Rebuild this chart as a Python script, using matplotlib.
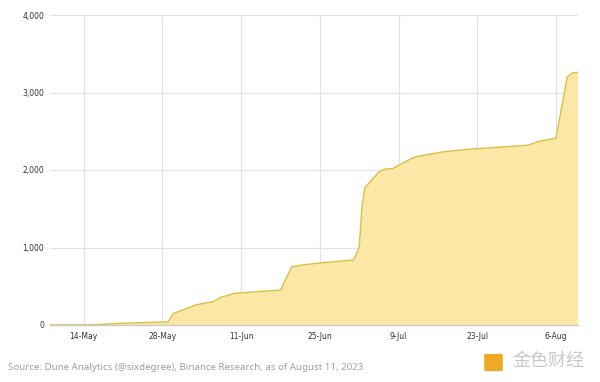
import pandas as pd
import matplotlib.pyplot as plt
import matplotlib.dates as mdates
from matplotlib.ticker import FuncFormatter
from matplotlib.patches import FancyBboxPatch

# cumulative count
dates = [
    "2023-05-08", "2023-05-16", "2023-05-17", "2023-05-20", "2023-05-24",
    "2023-05-29", "2023-05-30", "2023-06-03", "2023-06-06", "2023-06-07 12:00",
    "2023-06-10", "2023-06-18", "2023-06-20", "2023-06-22", "2023-06-25",
    "2023-07-01", "2023-07-02", "2023-07-02 12:00", "2023-07-03", "2023-07-05 12:00",
    "2023-07-06 12:00", "2023-07-08", "2023-07-10", "2023-07-12", "2023-07-17",
    "2023-07-22", "2023-08-01", "2023-08-03", "2023-08-06",
    "2023-08-08", "2023-08-08 20:00", "2023-08-09 20:00",
]
values = [
    0, 2, 8, 20, 30,
    40, 150, 260, 300, 360,
    410, 450, 750, 775, 800,
    840, 1000, 1530, 1770, 1975,
    2010, 2020, 2100, 2170, 2235,
    2270, 2320, 2370, 2410,
    3200, 3250, 3260,
]
x_ticks = ["2023-05-14", "2023-05-28", "2023-06-11", "2023-06-25",
           "2023-07-09", "2023-07-23", "2023-08-06"]
y_ticks = [0, 1000, 2000, 3000, 4000]

source = "Source: Dune Analytics (@sixdegree), Binance Research, as of August 11, 2023"

x = pd.to_datetime(dates, format="mixed")

fig = plt.figure(figsize=(6, 3.82), dpi=100)
ax = fig.add_axes([50 / 600, 57 / 382, 528 / 600, 310 / 382])

ax.fill_between(x, values, 0, color="#fde7a6", lw=0, zorder=2)
ax.plot(x, values, color="#d6c03e", lw=1.0, zorder=3)

ax.set_xlim(pd.Timestamp("2023-05-08"), pd.Timestamp("2023-08-09 22:00"))
ax.set_ylim(0, 4000)
ax.set_xticks(pd.to_datetime(x_ticks))
ax.xaxis.set_major_formatter(mdates.DateFormatter("%-d-%b"))
ax.set_yticks(y_ticks)
ax.yaxis.set_major_formatter(FuncFormatter(lambda v, p: f"{int(v):,}"))

ax.grid(True, color="#e2e2e2", lw=0.8, zorder=1)
ax.set_axisbelow(True)
for s in ["top", "right", "left"]:
    ax.spines[s].set_visible(False)
ax.spines["bottom"].set_color("#c9c9c9")
ax.spines["bottom"].set_linewidth(1.0)
ax.spines["bottom"].set_zorder(4)
ax.tick_params(axis="both", length=0, labelsize=5.5, labelcolor="#333333")
ax.tick_params(axis="x", pad=5)
ax.tick_params(axis="y", pad=4)

fig.text(8 / 600, 1 - 367 / 382, source, fontsize=7.0, color="#a0a0a0",
         family="Noto Sans", va="center", ha="left")

# watermark
fig.patches.append(FancyBboxPatch((486 / 600, 1 - 370 / 382), 15 / 600, 15 / 382,
                                  boxstyle="round,pad=0.003", transform=fig.transFigure,
                                  fc="#eeaa22", ec="none", figure=fig))
fig.text(512 / 600, 1 - 361 / 382, "金色财经", fontsize=13, color="#c8c8c8",
         family=["Noto Sans CJK SC", "DejaVu Sans"], va="center", ha="left")

fig.savefig("out.png", dpi=100)
